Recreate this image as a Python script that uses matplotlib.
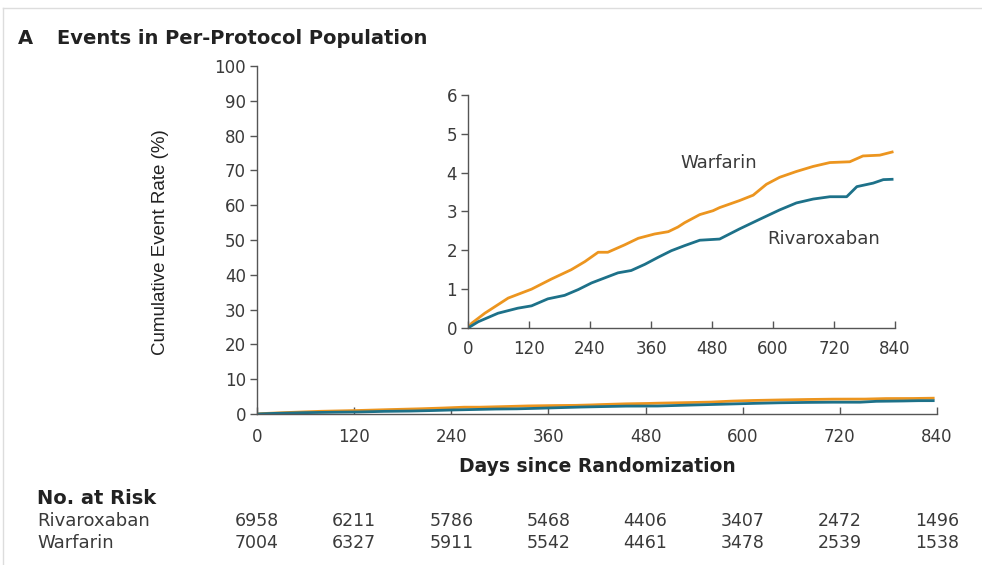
import matplotlib
matplotlib.use("Agg")
import matplotlib.pyplot as plt
from matplotlib.transforms import blended_transform_factory

# Cumulative event curves (percent) for the per-protocol population
riva_days = [0, 20, 59, 98, 125, 157, 190, 217, 243, 269, 295, 321, 348, 374, 400,
             426, 456, 495, 534, 574, 613, 646, 679, 712, 745, 765, 797, 817, 837]
riva_rate = [0, 0.16, 0.38, 0.51, 0.57, 0.75, 0.84, 0.99, 1.16, 1.29, 1.42, 1.48,
             1.64, 1.82, 1.99, 2.12, 2.26, 2.29, 2.55, 2.80, 3.04, 3.22, 3.32, 3.38,
             3.38, 3.64, 3.73, 3.82, 3.83]

warf_days = [0, 7, 33, 79, 125, 164, 203, 230, 256, 275, 308, 335, 367, 394, 413,
             426, 456, 482, 495, 534, 561, 587, 613, 646, 679, 712, 751, 777, 810, 837]
warf_rate = [0, 0.12, 0.38, 0.77, 1.00, 1.26, 1.50, 1.71, 1.95, 1.95, 2.14, 2.31,
             2.42, 2.48, 2.60, 2.71, 2.92, 3.02, 3.10, 3.28, 3.42, 3.70, 3.88, 4.03,
             4.16, 4.26, 4.28, 4.43, 4.45, 4.54]

risk_days = [0, 120, 240, 360, 480, 600, 720, 840]
riva_at_risk = [6958, 6211, 5786, 5468, 4406, 3407, 2472, 1496]
warf_at_risk = [7004, 6327, 5911, 5542, 4461, 3478, 2539, 1538]

main_yticks = list(range(0, 101, 10))
inset_yticks = list(range(0, 7))
xticks = list(range(0, 841, 120))

ORANGE = "#EC951F"
TEAL = "#1D7189"
AXIS = "#555555"
TEXT = "#222222"
LABEL = "#3a3a3a"

fig = plt.figure(figsize=(9.82, 5.65), dpi=100)
fig.patch.set_facecolor("white")

# light frame along the top and left
fig.add_artist(plt.Line2D([0.003, 1.0], [0.986, 0.986], color="#dddddd", lw=1.0))
fig.add_artist(plt.Line2D([0.003, 0.003], [0.0, 0.986], color="#dddddd", lw=1.0))


def style_axes(ax, xpad):
    for side in ("top", "right"):
        ax.spines[side].set_visible(False)
    for side in ("left", "bottom"):
        ax.spines[side].set_color(AXIS)
        ax.spines[side].set_linewidth(1.0)
    ax.tick_params(axis="y", direction="out", length=5, width=1.0, color=AXIS,
                   labelsize=12, labelcolor=LABEL, pad=3)
    ax.tick_params(axis="x", direction="in", length=5, width=1.0, color=AXIS,
                   labelsize=12, labelcolor=LABEL, pad=xpad)


# main panel
ax = fig.add_axes([0.2617, 0.2673, 0.6925, 0.6159])
ax.plot(warf_days, warf_rate, color=ORANGE, lw=2.0, solid_capstyle="butt")
ax.plot(riva_days, riva_rate, color=TEAL, lw=2.0, solid_capstyle="butt")
ax.set_xlim(0, 840)
ax.set_ylim(0, 100)
ax.set_xticks(xticks)
ax.set_yticks(main_yticks)
style_axes(ax, 10)
ax.set_ylabel("Cumulative Event Rate (%)", family="Liberation Sans", fontsize=13.5,
              color=TEXT)
ax.yaxis.set_label_coords(-0.13, 0.494)
ax.set_xlabel("Days since Randomization", fontsize=13.5, fontweight="bold",
              color=TEXT)
ax.xaxis.set_label_coords(0.5, -0.125)

# inset zoom on the lower range
axi = fig.add_axes([0.4766, 0.4195, 0.4348, 0.4124])
axi.plot(warf_days, warf_rate, color=ORANGE, lw=2.0, solid_capstyle="butt")
axi.plot(riva_days, riva_rate, color=TEAL, lw=2.0, solid_capstyle="butt")
axi.set_xlim(0, 840)
axi.set_ylim(0, 6)
axi.set_xticks(xticks)
axi.set_yticks(inset_yticks)
style_axes(axi, 9)
axi.patch.set_alpha(0)
axi.text(417, 4.25, "Warfarin", fontsize=13, color=LABEL, va="center")
axi.text(588, 2.29, "Rivaroxaban", fontsize=13, color=LABEL, va="center")

# panel title
fig.text(0.018, 1 - 38 / 565, "A", fontsize=14, fontweight="bold", color=TEXT,
         va="center")
fig.text(0.058, 1 - 38 / 565, "Events in Per-Protocol Population", fontsize=14,
         fontweight="bold", color=TEXT, va="center")

# number at risk table
fig.text(0.038, 1 - 498 / 565, "No. at Risk", fontsize=14, fontweight="bold",
         color=TEXT, va="center")
tr = blended_transform_factory(ax.transData, fig.transFigure)
rows = [("Rivaroxaban", riva_at_risk, 1 - 521 / 565),
        ("Warfarin", warf_at_risk, 1 - 543 / 565)]
for name, counts, yy in rows:
    fig.text(0.038, yy, name, fontsize=13, color=LABEL, va="center")
    for d, n in zip(risk_days, counts):
        ax.text(d, yy, f"{n}", transform=tr, fontsize=12.5, color=LABEL,
                ha="center", va="center", clip_on=False)

fig.savefig("out.png", dpi=100, facecolor="white")
